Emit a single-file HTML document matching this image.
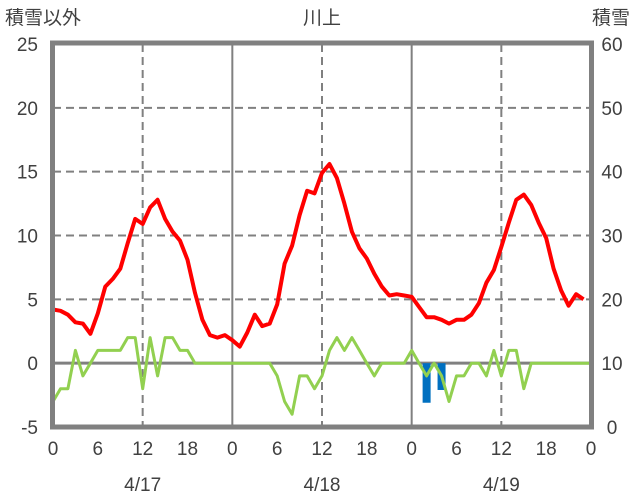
<!DOCTYPE html>
<html><head><meta charset="utf-8"><style>
html,body{margin:0;padding:0;background:#fff;}
svg{display:block;font-family:"Liberation Sans","Noto Sans CJK JP",sans-serif;}
</style></head><body>
<svg id="chart" width="636" height="501" xmlns="http://www.w3.org/2000/svg">
<text x="5" y="24" font-size="19" fill="#404040">積雪以外</text>
<text x="322" y="24" font-size="19" fill="#404040" text-anchor="middle">川上</text>
<text x="630" y="24" font-size="19" fill="#404040" text-anchor="end">積雪</text>
<g id="grid"></g><g id="series"></g><g id="frame"></g><g id="labels"></g>
</svg>
<script>
const hours = [];
for (let h = 0; h <= 72; h++) hours.push(h);
const tempValues = [4.2,4.1,3.8,3.2,3.1,2.3,3.9,6.0,6.6,7.4,9.4,11.3,10.9,12.2,12.8,11.3,10.3,9.6,8.1,5.5,3.4,2.2,2.0,2.2,1.8,1.3,2.4,3.8,2.9,3.1,4.6,7.8,9.2,11.6,13.5,13.3,14.9,15.6,14.5,12.5,10.3,9.0,8.2,7.0,6.0,5.3,5.4,5.3,5.2,4.4,3.6,3.6,3.4,3.1,3.4,3.4,3.8,4.7,6.3,7.3,9.1,11.0,12.8,13.2,12.4,11.0,9.8,7.4,5.7,4.5,5.4,5.0];
const otherValues = [-3,-2,-2,1,-1,0,1,1,1,1,2,2,-2,2,-1,2,2,1,1,0,0,0,0,0,0,0,0,0,0,0,-1,-3,-4,-1,-1,-2,-1,1,2,1,2,1,0,-1,0,0,0,0,1,0,-1,0,-1,-3,-1,-1,0,0,-1,1,-1,1,1,-2,0,0,0,0,0,0,0,0,0];
const barHours = [50, 52];
const barValues = [-3.1, -2.1];
const snowValues = new Array(73).fill(0);
const leftTicks = [-5,0,5,10,15,20,25];
const rightTicks = [0,10,20,30,40,50,60];
const xTickLabels = ["0","6","12","18","0","6","12","18","0","6","12","18","0"];
const dateLabels = ["4/17","4/18","4/19"];

const X0=53, X1=591, Y0=427, Y1=44;
const xs = h => X0 + (X1-X0)*h/72;
const yl = v => Y0 - (Y0-Y1)*(v+5)/30;
const yr = v => Y0 - (Y0-Y1)*v/60;
const NS="http://www.w3.org/2000/svg";
function mk(tag, attrs, parent){const e=document.createElementNS(NS,tag);for(const k in attrs)e.setAttribute(k,attrs[k]);document.getElementById(parent).appendChild(e);return e;}

leftTicks.forEach(v=>{
  if(v===-5||v===25) return;
  const l=mk('line',{x1:X0,x2:X1,y1:yl(v),y2:yl(v),stroke:'#808080','stroke-width':v===0?3:2,'stroke-dasharray':v===0?'none':'8,5'},'grid');
  
  
});
[12,24,36,48,60].forEach(h=>{
  const solid = h%24===0;
  const l=mk('line',{x1:xs(h),x2:xs(h),y1:Y1,y2:Y0,stroke:'#808080','stroke-width':2,'stroke-dasharray':solid?'none':'8,5'},'grid');
  
  
});

barHours.forEach((h,i)=>{
  const y=yl(0), y2=yl(barValues[i]);
  const r=mk('rect',{x:xs(h)-4,y:Math.min(y,y2),width:8,height:Math.abs(y2-y),fill:'#0070c0'},'series');
  
  
});
function line(vals, f, color, w, name){
  const p=vals.map((v,i)=>(i?'L':'M')+xs(hours[i]).toFixed(1)+','+f(v).toFixed(1)).join('');
  const e=mk('path',{d:p,fill:'none',stroke:color,'stroke-width':w,'stroke-linejoin':'round'},'series');
  
  
}
line(otherValues, yl, '#92d050', 3, 'green-series-line');
line(snowValues, yr, '#7030a0', 3, 'snow-depth-line');
line(tempValues, yl, '#ff0000', 4, 'temperature-line');

const fr=mk('rect',{x:X0-0.5,y:Y1-1,width:X1-X0+1,height:Y0-Y1+1,fill:'none',stroke:'#808080','stroke-width':5},'frame');



leftTicks.forEach(v=>{
  const t=mk('text',{x:38,y:yl(v)+7,'font-size':19,fill:'#404040','text-anchor':'end'},'labels');
  t.textContent=v;
  
  
});
rightTicks.forEach(v=>{
  const t=mk('text',{x:612,y:yr(v)+7,'font-size':19,fill:'#404040','text-anchor':'middle'},'labels');
  t.textContent=v;
  
  
});
xTickLabels.forEach((s,i)=>{
  const t=mk('text',{x:xs(i*6),y:455,'font-size':19,fill:'#404040','text-anchor':'middle'},'labels');
  t.textContent=s;
  
  
});
dateLabels.forEach((s,i)=>{
  const t=mk('text',{x:xs(12+24*i),y:491,'font-size':19,fill:'#404040','text-anchor':'middle'},'labels');
  t.textContent=s;
  
  
});
</script>
</body></html>
